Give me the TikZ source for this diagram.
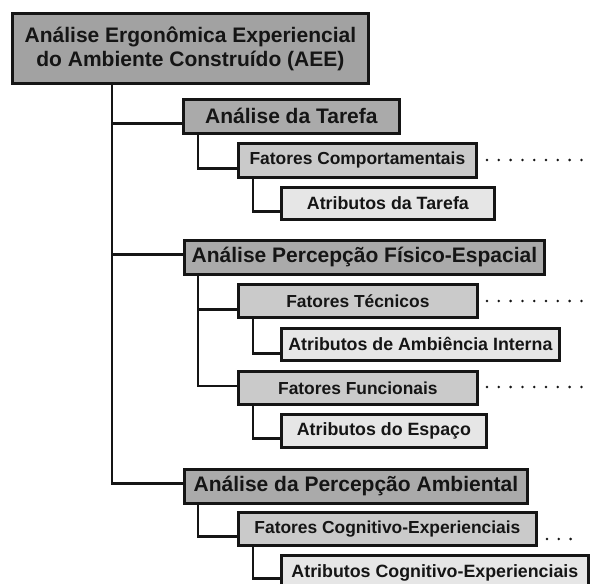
\documentclass[tikz,border=0pt]{standalone}
\usepackage{fontspec}
\setmainfont{Liberation Sans}
\definecolor{lvA}{HTML}{A2A2A2}
\definecolor{lvB}{HTML}{AAAAAA}
\definecolor{lvC}{HTML}{CACACA}
\definecolor{lvD}{HTML}{E6E6E6}
\definecolor{ink}{HTML}{151515}
\tikzset{
  box/.style={draw=ink, line width=2.8pt, anchor=north west, inner sep=0pt,
    text=ink, font=\bfseries, align=center},
  topbox/.style={box, fill=lvA, font=\bfseries\fontsize{21}{24}\selectfont},
  anbox/.style={box, fill=lvB, font=\bfseries\fontsize{21}{24}\selectfont},
  fatbox/.style={box, fill=lvC, font=\bfseries\fontsize{17.4}{20}\selectfont},
  atbox/.style={box, fill=lvD, font=\bfseries\fontsize{17.8}{20}\selectfont},
  link/.style={draw=ink, line width=2.6pt},
  dotrow/.style={draw=ink, line width=2.8pt, line cap=round, dash pattern=on 0pt off 11.8pt}
}
\begin{document}
\begin{tikzpicture}[x=1pt, y=-1pt]
\clip (0,0) rectangle (591,583);
\fill[white] (0,0) rectangle (591,583);

% column coordinates for connectors
\coordinate (c0) at (112,0);
\coordinate (c1) at (198,0);
\coordinate (c2) at (253,0);

% nodes
\node[topbox, minimum width=356pt, minimum height=70pt] (top) at (11,12)
  {Análise Ergonômica Experiencial\\do Ambiente Construído (AEE)};

\node[anbox, minimum width=216pt, minimum height=34pt] (t1) at (182,98) {Análise da Tarefa};
\node[fatbox, minimum width=238pt, minimum height=34pt] (f1) at (237,142) {Fatores Comportamentais};
\node[atbox, minimum width=213pt, minimum height=32pt] (a1) at (280,186) {Atributos da Tarefa};

\node[anbox, minimum width=360pt, minimum height=34pt] (t2) at (183,239) {Análise Percepção Físico-Espacial};
\node[fatbox, minimum width=239pt, minimum height=33pt] (f2) at (237,283) {Fatores Técnicos};
\node[atbox, minimum width=278pt, minimum height=32pt] (a2) at (280,327) {Atributos de Ambiência Interna};
\node[fatbox, minimum width=239pt, minimum height=33pt] (f3) at (237,370) {Fatores Funcionais};
\node[atbox, minimum width=205pt, minimum height=33pt] (a3) at (280,413) {Atributos do Espaço};

\node[anbox, minimum width=343pt, minimum height=34pt] (t3) at (183,468) {Análise da Percepção Ambiental};
\node[fatbox, minimum width=298pt, minimum height=33pt] (f4) at (237,511) {Fatores Cognitivo-Experienciais};
\node[atbox, minimum width=307pt, minimum height=36pt] (a4) at (280,554) {Atributos Cognitivo-Experienciais};

% entry points on the left sides of the boxes
\coordinate (t1in) at ([yshift=-7pt]t1.west);
\coordinate (t2in) at ([yshift=3pt]t2.west);
\coordinate (t3in) at ([yshift=3pt]t3.west);
\coordinate (f1in) at ([yshift=-8pt]f1.west);
\coordinate (f2in) at ([yshift=-8.5pt]f2.west);
\coordinate (f3in) at ([yshift=2pt]f3.west);
\coordinate (f4in) at ([yshift=-7.5pt]f4.west);
\coordinate (a1in) at ([yshift=-8pt]a1.west);
\coordinate (a2in) at ([yshift=-9pt]a2.west);
\coordinate (a3in) at ([yshift=-7.5pt]a3.west);
\coordinate (a4in) at ([yshift=-5pt]a4.west);

% trunk
\draw[link] (top.south -| c0) |- (t3in);
\draw[link] (c0 |- t1in) -- (t1in);
\draw[link] (c0 |- t2in) -- (t2in);

% branch connectors
\draw[link] (t1.south -| c1) |- (f1in);
\draw[link] (f1.south -| c2) |- (a1in);

\draw[link] (t2.south -| c1) |- (f3in);
\draw[link] (c1 |- f2in) -- (f2in);
\draw[link] (f2.south -| c2) |- (a2in);
\draw[link] (f3.south -| c2) |- (a3in);

\draw[link] (t3.south -| c1) |- (f4in);
\draw[link] (f4.south -| c2) |- (a4in);

% dotted leaders
\coordinate (e1) at (582,160);
\coordinate (e2) at (582,301);
\coordinate (e3) at (582,387);
\coordinate (e4) at (582,539);
\coordinate (s1) at (487,0);
\coordinate (s4) at (547,0);
\draw[dotrow] (s1 |- e1) -- (e1);
\draw[dotrow] (s1 |- e2) -- (e2);
\draw[dotrow] (s1 |- e3) -- (e3);
\draw[dotrow] (s4 |- e4) -- (e4);
\end{tikzpicture}
\end{document}
